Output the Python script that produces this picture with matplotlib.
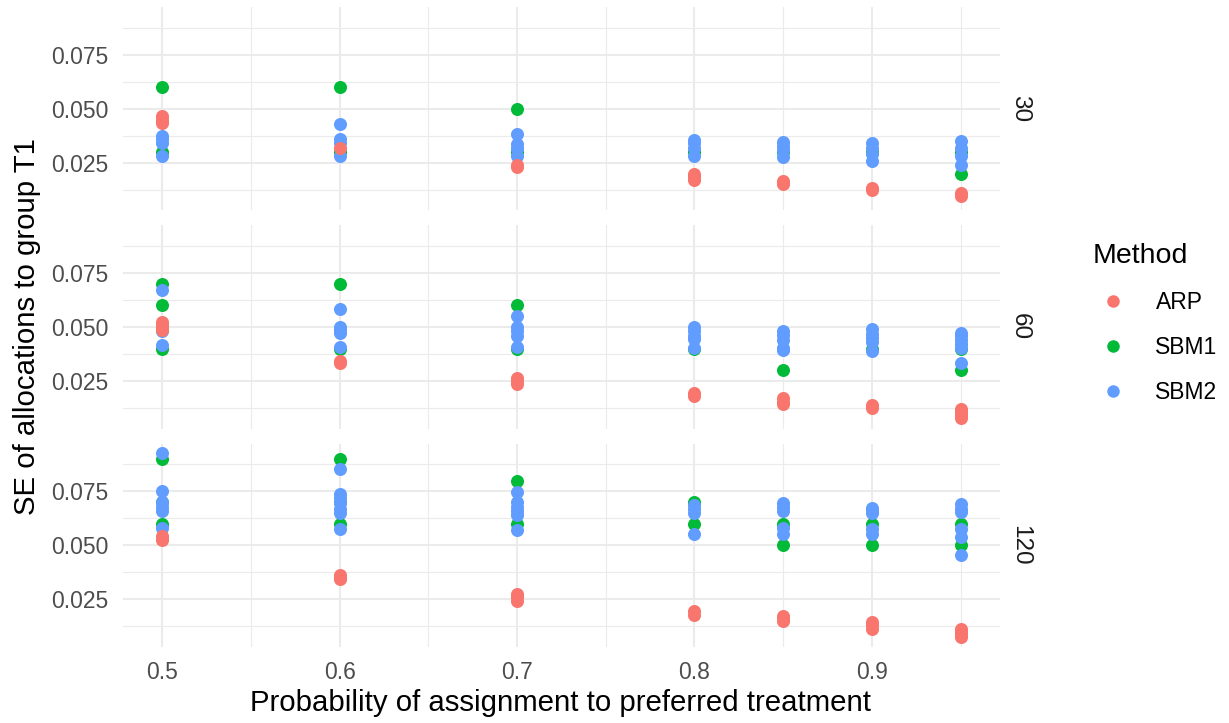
import matplotlib
matplotlib.use("Agg")
import matplotlib.pyplot as plt
from matplotlib.lines import Line2D
from matplotlib.ticker import FixedLocator

plt.rcParams['font.family'] = ['Liberation Sans', 'DejaVu Sans']

probs = [0.5, 0.6, 0.7, 0.8, 0.85, 0.9, 0.95]
sample_sizes = ["30", "60", "120"]
methods = ["ARP", "SBM1", "SBM2"]
colors = {"ARP": "#F8766D", "SBM1": "#00BA38", "SBM2": "#619CFF"}

# ---- n = 30 ----
arp_30 = [[0.0465, 0.045, 0.0435], [0.0318], [0.024, 0.023],
          [0.020, 0.019, 0.018, 0.017], [0.0165, 0.0155, 0.015],
          [0.0135, 0.0125], [0.011, 0.0095]]
sbm1_30 = [[0.06, 0.03], [0.06, 0.03], [0.05, 0.03], [0.03], [0.03],
           [0.03], [0.03, 0.02]]
sbm2_30 = [[0.0375, 0.036, 0.034, 0.028], [0.043, 0.036, 0.034, 0.028],
           [0.0385, 0.0335, 0.032, 0.028], [0.0355, 0.034, 0.032, 0.028],
           [0.0345, 0.033, 0.031, 0.0275], [0.034, 0.032, 0.029, 0.026],
           [0.035, 0.032, 0.028, 0.024]]

# ---- n = 60 ----
arp_60 = [[0.0525, 0.051, 0.050, 0.0485], [0.0345, 0.0335],
          [0.0265, 0.025, 0.0235], [0.0195, 0.018],
          [0.017, 0.0155, 0.0145], [0.014, 0.0125],
          [0.012, 0.0105, 0.0095, 0.008]]
sbm1_60 = [[0.07, 0.06, 0.04], [0.07, 0.04], [0.06, 0.04], [0.04],
           [0.04, 0.03], [0.04], [0.04, 0.03]]
sbm2_60 = [[0.067, 0.049, 0.048, 0.0415], [0.0585, 0.050, 0.0485, 0.0475, 0.041],
           [0.055, 0.050, 0.048, 0.046, 0.041], [0.050, 0.048, 0.046, 0.0445, 0.0405],
           [0.048, 0.0465, 0.044, 0.0405, 0.0395], [0.049, 0.047, 0.045, 0.043, 0.039],
           [0.0475, 0.046, 0.044, 0.042, 0.0405, 0.0335]]

# ---- n = 120 ----
arp_120 = [[0.0545, 0.0535, 0.0525], [0.0365, 0.035, 0.0345],
           [0.0275, 0.026, 0.0245], [0.0195, 0.018],
           [0.0175, 0.016, 0.015], [0.0145, 0.013, 0.0115],
           [0.0115, 0.010, 0.0085, 0.0075]]
sbm1_120 = [[0.09, 0.07, 0.06], [0.09, 0.07, 0.06], [0.08, 0.06], [0.07, 0.06],
            [0.06, 0.05], [0.06, 0.05], [0.06, 0.05]]
sbm2_120 = [[0.0928, 0.075, 0.070, 0.068, 0.066, 0.058],
            [0.0855, 0.074, 0.072, 0.0695, 0.067, 0.065, 0.0575],
            [0.0745, 0.070, 0.068, 0.066, 0.064, 0.057],
            [0.0685, 0.067, 0.065, 0.0555],
            [0.0695, 0.068, 0.066, 0.058, 0.0555],
            [0.0675, 0.066, 0.065, 0.0575, 0.0555],
            [0.069, 0.067, 0.0655, 0.0575, 0.054, 0.0455]]

panels = {
    "30": {"ARP": arp_30, "SBM1": sbm1_30, "SBM2": sbm2_30},
    "60": {"ARP": arp_60, "SBM1": sbm1_60, "SBM2": sbm2_60},
    "120": {"ARP": arp_120, "SBM1": sbm1_120, "SBM2": sbm2_120},
}
draw_order = ["SBM1", "SBM2", "ARP"]

W, H = 1229, 723
fig = plt.figure(figsize=(W / 100, H / 100), dpi=100)
gs = fig.add_gridspec(3, 1, left=122.7 / W, right=1000 / W,
                      top=1 - 7 / H, bottom=1 - 647 / H, hspace=15 / 204)

grid_col = "#EBEBEB"
for i, n in enumerate(sample_sizes):
    ax = fig.add_subplot(gs[i, 0])
    for m in draw_order:
        xs, ys = [], []
        for p, vals in zip(probs, panels[n][m]):
            for v in vals:
                xs.append(p)
                ys.append(v)
        ax.scatter(xs, ys, s=88, color=colors[m], linewidths=0, zorder=3)
    ax.set_xlim(0.4777, 0.9722)
    ax.set_ylim(0.0030, 0.0971)
    ax.xaxis.set_major_locator(FixedLocator([0.5, 0.6, 0.7, 0.8, 0.9]))
    ax.xaxis.set_minor_locator(FixedLocator([0.55, 0.65, 0.75, 0.85, 0.95]))
    ax.yaxis.set_major_locator(FixedLocator([0.025, 0.05, 0.075]))
    ax.yaxis.set_minor_locator(FixedLocator([0.0125, 0.0375, 0.0625, 0.0875]))
    ax.grid(which="major", color=grid_col, linewidth=1.45, zorder=0)
    ax.grid(which="minor", color=grid_col, linewidth=0.8, zorder=0)
    ax.set_axisbelow(True)
    for sp in ax.spines.values():
        sp.set_visible(False)
    ax.tick_params(which="both", length=0)
    ax.tick_params(axis="y", labelsize=16.5, labelcolor="#4D4D4D", pad=10.5)
    ax.tick_params(axis="x", labelsize=16.5, labelcolor="#4D4D4D", pad=10)
    ax.set_yticklabels(["0.025", "0.050", "0.075"])
    if i < 2:
        ax.tick_params(axis="x", labelbottom=False)
    else:
        ax.set_xticklabels(["0.5", "0.6", "0.7", "0.8", "0.9"])
    ax.text(1 + 20 / 877, 0.5, n, transform=ax.transAxes, rotation=-90,
            ha="center", va="center", fontsize=17.5, color="#1A1A1A")

fig.text(27 / W, 1 - 327 / H, "SE of allocations to group T1", rotation=90,
         ha="center", va="center", fontsize=21.2, color="black")
fig.text(561 / W, 1 - 703 / H, "Probability of assignment to preferred treatment",
         ha="center", va="center", fontsize=21.2, color="black")

handles = [Line2D([0], [0], marker="o", linestyle="none", markersize=9,
                  markerfacecolor=colors[m], markeredgewidth=0) for m in methods]
leg = fig.legend(handles, methods, title="Method", loc="upper left",
                 bbox_to_anchor=(1081 / W, 1 - 232 / H), frameon=False,
                 fontsize=16.5, title_fontsize=20.5, labelspacing=0.96,
                 handletextpad=0.95, borderpad=0, handlelength=1.8)
leg._legend_box.align = "left"

fig.savefig("out.png", dpi=100)
